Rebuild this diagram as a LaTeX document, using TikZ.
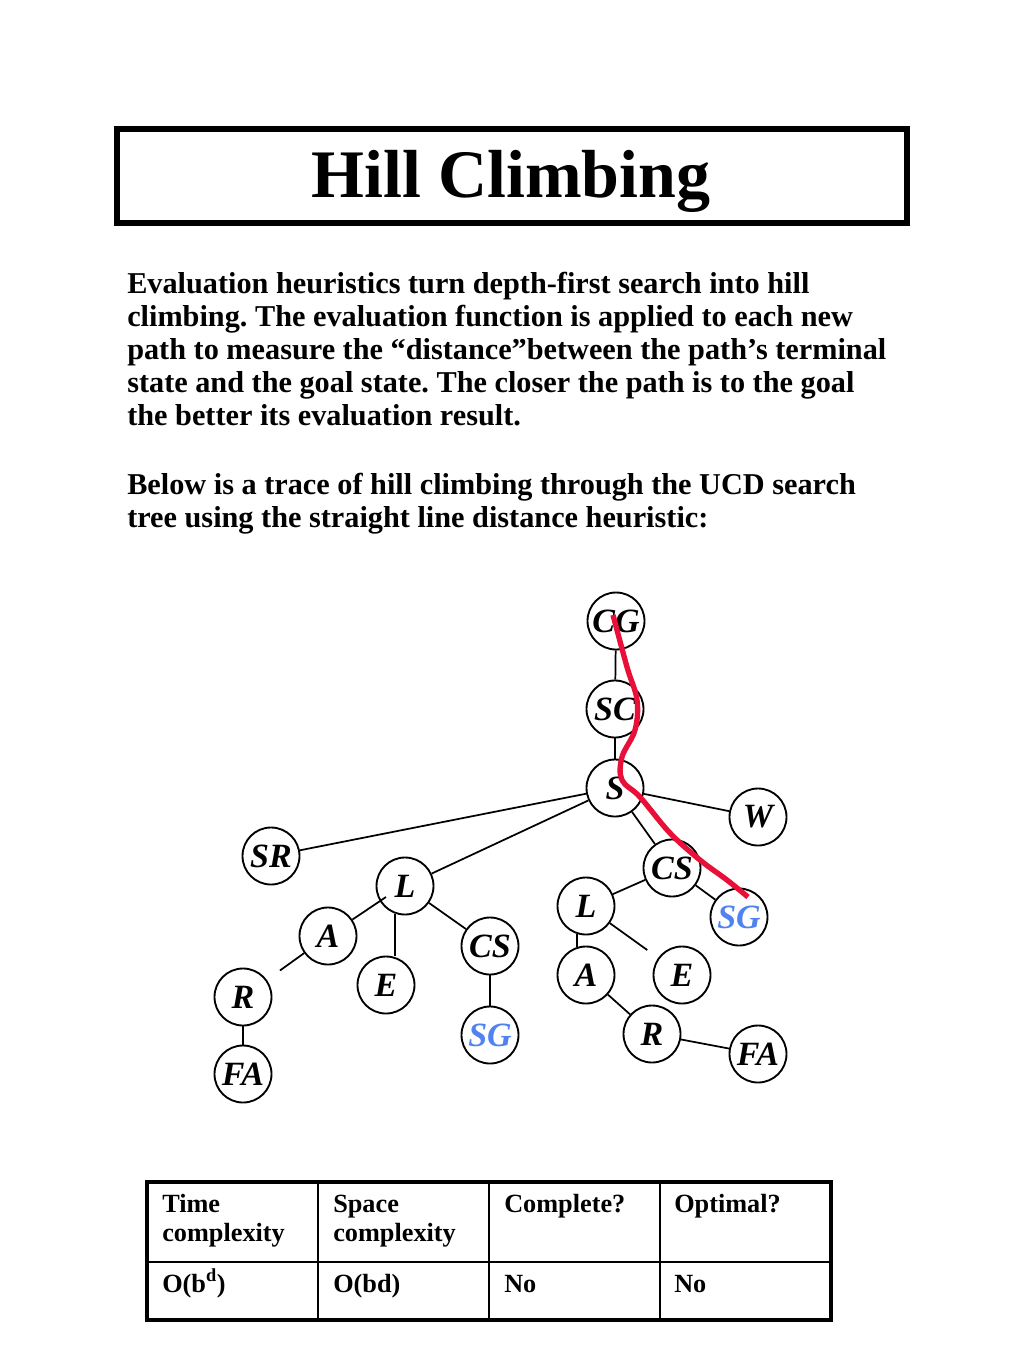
\documentclass[tikz,border=0pt]{standalone}
\usepackage{fontspec}
\setmainfont{Liberation Serif}
\usetikzlibrary{calc}
\definecolor{sgblue}{RGB}{80,130,240}
\definecolor{pathred}{RGB}{232,16,56}
\frenchspacing
\begin{document}
\begin{tikzpicture}[x=0.75pt,y=-0.75pt,
  st/.style={circle, draw, line width=1.4pt, minimum size=42.75pt, inner sep=0pt,
    font=\fontsize{25.5}{25.5}\selectfont\bfseries\itshape},
  goal/.style={st, text=sgblue},
  edge/.style={line width=1.3pt},
  bodyline/.style={anchor=base west, inner sep=0pt, font=\fontsize{22.7}{26}\selectfont\bfseries},
  cell/.style={anchor=base west, inner sep=0pt, font=\fontsize{19.7}{22}\selectfont\bfseries},
  redpath/.style={line width=4pt, pathred}]
\useasboundingbox[fill=white] (0,0) rectangle (1024,1365);

% title
\draw[line width=4.5pt] (117,129) rectangle (907,223);
\node[anchor=base, inner sep=0pt, font=\fontsize{51}{51}\selectfont\bfseries] (title) at (511,197) {Hill Climbing};

% body text
\node[bodyline] (t1) at (127,293) {Evaluation heuristics turn depth-first search into hill};
\node[bodyline] (t2) at (127,326) {climbing. The evaluation function is applied to each new};
\node[bodyline] (t3) at (127,359) {path to measure the “distance”between the path’s terminal};
\node[bodyline] (t4) at (127,392) {state and the goal state. The closer the path is to the goal};
\node[bodyline] (t5) at (127,425) {the better its evaluation result.};
\node[bodyline] (t6) at (127,494) {Below is a trace of hill climbing through the UCD search};
\node[bodyline] (t7) at (127,527) {tree using the straight line distance heuristic:};

% tree nodes
\node[st] (CG) at (616,621) {CG};
\node[st] (SC) at (615,709) {SC};
\node[st] (S) at (615,788) {S};
\node[st] (W) at (758,817) {W};
\node[st] (SR) at (271,856) {SR};
\node[st] (L1) at (405,886) {L};
\node[st] (CS1) at (672,868) {CS};
\node[st] (L2) at (586,906) {L};
\node[goal] (SG1) at (739,917) {SG};
\node[st] (A1) at (328,936) {A};
\node[st] (CS2) at (490,946) {CS};
\node[st] (A2) at (586,975) {A};
\node[st] (E2) at (682,975) {E};
\node[st] (E1) at (386,985) {E};
\node[st] (R1) at (243,997) {R};
\node[goal] (SG2) at (490,1035) {SG};
\node[st] (R2) at (652,1034) {R};
\node[st] (FA2) at (758,1054) {FA};
\node[st] (FA1) at (243,1074) {FA};

% edges
\draw[edge] (CG) -- (SC);
\draw[edge] (SC) -- (S);
\draw[edge] (S) -- (W);
\draw[edge] (S) -- (SR);
\draw[edge] (S) -- (L1);
\draw[edge] (S) -- (CS1);
\draw[edge] (A1) -- ($(L1)+(-19,11)$);
\draw[edge] (L1.-110) -- (E1.north -| L1.-110);
\draw[edge] (L1) -- (CS2);
\draw[edge] (CS2) -- (SG2);
\draw[edge, shorten >=12pt] (A1) -- (R1);
\draw[edge] (R1) -- (FA1);
\draw[edge] (CS1) -- (L2);
\draw[edge] (CS1) -- (SG1);
\draw[edge] (L2.-108) -- (A2.108);
\draw[edge, shorten >=10pt] (L2) -- (E2);
\draw[edge] (A2) -- (R2);
\draw[edge] (R2) -- (FA2);

% hill-climbing trace
\draw[redpath] plot[smooth, tension=0.6] coordinates {(613,615) (627,667) (637,700) (635,730) (622,757) (622,780) (640,797) (670,833) (700,860) (727,880) (748,897)};

% table
\draw[line width=1.2pt] (147,1262) -- (831,1262);
\draw[line width=1.2pt] (318,1182) -- (318,1320);
\draw[line width=1.2pt] (489,1182) -- (489,1320);
\draw[line width=1.2pt] (660,1182) -- (660,1320);
\draw[line width=2.4pt] (147,1182) rectangle (831,1320);
\node[cell] (c11) at (162,1212) {Time};
\node[cell] (c11b) at (162,1241) {complexity};
\node[cell] (c12) at (333,1212) {Space};
\node[cell] (c12b) at (333,1241) {complexity};
\node[cell] (c13) at (504,1212) {Complete?};
\node[cell] (c14) at (674,1212) {Optimal?};
\node[cell] (c21) at (162,1292) {O(b\textsuperscript{d})};
\node[cell] (c22) at (333,1292) {O(bd)};
\node[cell] (c23) at (504,1292) {No};
\node[cell] (c24) at (674,1292) {No};
\end{tikzpicture}
\end{document}
